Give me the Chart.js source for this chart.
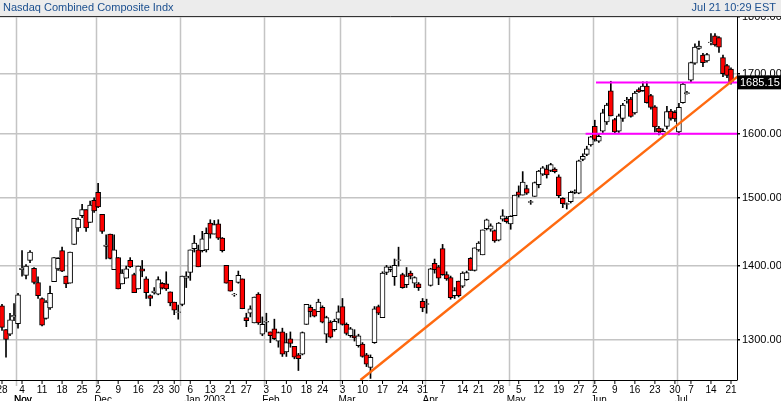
<!DOCTYPE html>
<html><head><meta charset="utf-8">
<script src="https://cdn.jsdelivr.net/npm/chart.js@4/dist/chart.umd.min.js"></script>
<style>html,body{margin:0;padding:0;background:#fff}#w{width:781px;height:401px}</style>
</head><body><div id="w"><canvas id="c"></canvas></div>
<script>
const title = "Nasdaq Combined Composite Indx";
const stamp = "Jul 21 10:29 EST";
const lastPrice = 1685.15;
const holidays = ["2002-11-28","2002-12-25","2003-01-01","2003-01-20","2003-02-17","2003-04-18","2003-05-26","2003-07-04"];
const monthNames = ["Jan 2003","Feb","Mar","Apr","May","Jun","Jul","Aug","Sep","Oct","Nov","Dec"];
const yTicks = [1300,1400,1500,1600,1700,1800];
const opens = [1345,1313,1307,1330,1321,1395,1387,1408,1397,1377,
1355,1328,1342,1378,1396,1422,1386,1376,1431,1455,
1473,1482,1463,1496,1508,1475,1428,1446,1395,1412,
1375,1383,1408,1388,1368,1396,1382,1359,1363,1361,
1376,1375,1364,1350,1336,1347,1383,1391,1425,1423,
1422,1423,1462,1446,1461,1440,1401,1380,1360,1377,
1382,1329,1335,1322,1361,1307,1323,1310,1314,1298,
1310,1284,1301,1291,1280,1281,1320,1343,1340,1337,
1343,1307,1323,1313,1327,1344,1320,1305,1305,1292,
1294,1280,1264,1296,1344,1329,1391,1395,1385,1408,
1388,1374,1390,1376,1375,1351,1347,1373,1404,1399,
1425,1388,1384,1359,1379,1372,1381,1411,1394,1423,
1416,1454,1453,1451,1437,1468,1469,1461,1473,1509,
1504,1514,1493,1502,1520,1536,1544,1542,1544,1532,
1499,1490,1494,1508,1507,1559,1567,1582,1612,1588,
1604,1619,1671,1623,1604,1625,1654,1657,1634,1673,
1671,1679,1663,1644,1609,1600,1612,1637,1635,1603,
1651,1666,1689,1718,1744,1732,1722,1754,1766,1763,
1728,1714,1708];
const highs = [1347,1313,1335,1348,1362,1422,1402,1422,1398,1385,
1356,1352,1372,1412,1412,1427,1386,1420,1469,1470,
1490,1482,1495,1500,1522,1475,1445,1446,1445,1412,
1395,1400,1412,1390,1400,1408,1385,1360,1370,1385,
1377,1392,1364,1350,1346,1386,1392,1423,1444,1430,
1450,1455,1467,1466,1467,1441,1401,1380,1362,1393,
1382,1335,1345,1357,1363,1330,1335,1310,1327,1310,
1315,1308,1310,1291,1282,1310,1347,1346,1340,1354,
1345,1331,1325,1327,1345,1355,1322,1316,1313,1307,
1296,1282,1280,1344,1346,1392,1401,1400,1410,1427,
1390,1398,1393,1385,1377,1355,1354,1397,1410,1401,
1431,1392,1386,1370,1379,1392,1393,1412,1426,1435,
1452,1468,1461,1452,1463,1482,1472,1473,1504,1518,
1540,1519,1496,1524,1542,1548,1550,1553,1546,1535,
1500,1492,1510,1512,1558,1568,1580,1596,1622,1600,
1640,1650,1687,1625,1632,1650,1660,1660,1670,1676,
1686,1686,1665,1646,1612,1608,1645,1640,1638,1650,
1685,1670,1720,1752,1757,1735,1735,1770,1770,1765,
1732,1716,1710];
const lows = [1312,1277,1305,1325,1315,1386,1382,1405,1375,1355,
1318,1327,1340,1378,1394,1392,1370,1376,1431,1450,
1470,1450,1463,1478,1485,1447,1410,1410,1395,1368,
1375,1383,1398,1363,1368,1385,1355,1345,1361,1360,
1368,1366,1345,1333,1327,1345,1370,1380,1420,1399,
1420,1420,1440,1446,1438,1420,1376,1365,1358,1376,
1341,1317,1330,1322,1320,1305,1310,1296,1300,1290,
1278,1278,1290,1275,1260,1280,1320,1330,1330,1337,
1322,1296,1302,1311,1322,1319,1306,1303,1298,1290,
1277,1265,1250,1295,1333,1329,1388,1392,1373,1400,
1369,1370,1382,1370,1366,1337,1335,1372,1390,1374,
1387,1380,1354,1355,1357,1370,1380,1394,1393,1421,
1416,1452,1450,1434,1436,1465,1462,1453,1473,1501,
1504,1505,1490,1502,1515,1534,1530,1540,1538,1500,
1485,1483,1492,1506,1506,1557,1565,1580,1588,1586,
1602,1615,1629,1600,1602,1620,1650,1627,1632,1668,
1670,1650,1640,1603,1598,1598,1608,1622,1620,1598,
1650,1665,1686,1716,1742,1712,1720,1750,1748,1737,
1695,1693,1682];
const closes = [1316,1300,1326,1332,1360,1397,1400,1420,1377,1359,
1319,1350,1362,1412,1411,1393,1375,1420,1469,1468,
1482,1455,1489,1480,1486,1450,1430,1411,1423,1368,
1390,1396,1399,1363,1400,1393,1363,1355,1365,1381,
1369,1368,1349,1339,1337,1386,1386,1423,1433,1399,
1439,1447,1446,1460,1440,1422,1376,1365,1361,1387,
1341,1325,1341,1357,1322,1320,1324,1305,1301,1309,
1281,1296,1295,1277,1275,1309,1347,1337,1331,1350,
1323,1329,1303,1324,1337,1320,1308,1314,1302,1305,
1278,1268,1277,1341,1335,1390,1399,1398,1401,1409,
1370,1386,1386,1384,1370,1342,1348,1396,1395,1383,
1388,1382,1356,1366,1359,1390,1391,1394,1426,1433,
1452,1467,1458,1436,1462,1473,1464,1472,1504,1504,
1524,1507,1494,1523,1541,1546,1535,1551,1540,1503,
1491,1491,1508,1510,1557,1564,1576,1595,1591,1596,
1634,1647,1629,1603,1629,1647,1655,1628,1667,1669,
1679,1651,1643,1611,1603,1604,1636,1625,1624,1643,
1682,1668,1719,1746,1748,1719,1733,1755,1750,1746,
1700,1697,1685.15];
// support / resistance and trend line anchors [barIndex, price]
const trendLine = [[89.5,1248],[184,1697]];
const resistance = [[148.3,1685],[184,1685]];
const support = [[145.7,1600],[184,1600]];

// trading-day categories
const dates = [];
for (let d = new Date(Date.UTC(2002,9,28)); d <= new Date(Date.UTC(2003,6,21)); d.setUTCDate(d.getUTCDate()+1)) {
  const wd = d.getUTCDay(); const iso = d.toISOString().slice(0,10);
  if (wd===0||wd===6||holidays.includes(iso)) continue;
  dates.push(new Date(d));
}
const weekIdx = [], monthIdx = [];
dates.forEach((d,i)=>{
  if (i===0 || d.getUTCDay() < dates[i-1].getUTCDay() || (d - dates[i-1]) > 3*864e5) weekIdx.push(i);
  if (i>0 && d.getUTCMonth()!==dates[i-1].getUTCMonth()) monthIdx.push(i);
});

const FONT = "'Liberation Sans', Arial, sans-serif";
const wicks = dates.map((d,i)=>({x:i,y:[lows[i],highs[i]]}));
const bodies = dates.map((d,i)=>({x:i,y:[opens[i],closes[i]===opens[i]?opens[i]+0.5:closes[i]]}));
const bodyColors = dates.map((d,i)=> closes[i]<opens[i] ? '#ff0000' : '#ffffff');
const pts = a => a.map(p=>({x:p[0],y:p[1]}));

const deco = {
  id:'deco',
  beforeDatasetsDraw(ch){
    const {ctx, chartArea:a, scales:{x}} = ch;
    ctx.save(); ctx.strokeStyle='#c4c4c4'; ctx.lineWidth=1.5;
    monthIdx.forEach(i=>{ const px=Math.round(x.getPixelForValue(i-0.5))+0.5;
      ctx.beginPath(); ctx.moveTo(px,a.top); ctx.lineTo(px,a.bottom+6); ctx.stroke(); });
    ctx.restore();
  },
  afterDraw(ch){
    const {ctx, chartArea:a, scales:{x,y}} = ch;
    ctx.save();
    ctx.fillStyle='#ececec'; ctx.fillRect(0,0,781,16);
    ctx.strokeStyle='#333'; ctx.lineWidth=1; ctx.beginPath(); ctx.moveTo(0,16.5); ctx.lineTo(781,16.5); ctx.stroke();
    ctx.font='11px '+FONT; ctx.fillStyle='#1b4f8f'; ctx.textBaseline='middle';
    ctx.textAlign='left'; ctx.fillText(title,3,8);
    ctx.textAlign='right'; ctx.fillText(stamp,776,8);
    ctx.strokeStyle='#000'; ctx.beginPath(); ctx.moveTo(0,a.bottom+0.5); ctx.lineTo(a.right,a.bottom+0.5); ctx.stroke();
    ctx.font='10px '+FONT; ctx.fillStyle='#000'; ctx.textAlign='center'; ctx.textBaseline='top';
    weekIdx.forEach(i=>{ const px=x.getPixelForValue(i);
      ctx.beginPath(); ctx.moveTo(px,a.bottom); ctx.lineTo(px,a.bottom+4); ctx.stroke();
      ctx.fillText(String(dates[i].getUTCDate()), px, a.bottom+5); });
    ctx.textAlign='left';
    monthIdx.forEach(i=>{
      const name = monthNames[dates[i].getUTCMonth()];
      const px=x.getPixelForValue(i-0.5);
      ctx.fillText(name, px + (name.length>3?4:-2), a.bottom+15); });
    ctx.fillText('Nov', x.getPixelForValue(3.5)-2, a.bottom+15);
    const py=y.getPixelForValue(lastPrice);
    ctx.fillStyle='#000'; ctx.fillRect(a.right+1,py-7,44,14);
    ctx.fillStyle='#fff'; ctx.font='11px '+FONT; ctx.textBaseline='middle'; ctx.fillText(lastPrice.toFixed(2), a.right+3, py+0.5);
    ctx.restore();
  }
};

new Chart(document.getElementById('c'), {
  data:{ datasets:[
    {type:'line', data:pts(trendLine), borderColor:'#ff6a10', borderWidth:2.5, pointRadius:0, order:0},
    {type:'line', data:pts(resistance), borderColor:'#ff00ff', borderWidth:2, pointRadius:0, order:0},
    {type:'line', data:pts(support), borderColor:'#ff00ff', borderWidth:2, pointRadius:0, order:0},
    {type:'bar', data:bodies, backgroundColor:bodyColors, borderColor:'#000', borderWidth:1, borderSkipped:false, barThickness:5, grouped:false, order:1},
    {type:'bar', data:wicks, backgroundColor:'#000', borderWidth:0, barThickness:1, grouped:false, order:2}
  ]},
  options:{
    responsive:true, maintainAspectRatio:false, animation:false,
    layout:{padding:{top:17,bottom:21,left:0,right:0}},
    plugins:{legend:{display:false}, tooltip:{enabled:false}},
    scales:{
      x:{type:'linear', min:-0.5, max:183.5, display:false, offset:false},
      y:{type:'logarithmic', position:'right', min:1248, max:1800,
        afterBuildTicks(s){ s.ticks = yTicks.map(v=>({value:v})); },
        afterFit(s){ s.width=44; },
        grid:{color:'#c4c4c4', lineWidth:1.5, drawTicks:true, tickLength:3, tickColor:'#000'},
        border:{display:true, color:'#000', width:1},
        ticks:{callback:v=>Number(v).toFixed(2), font:{family:FONT,size:11}, color:'#000', padding:2}
      }
    }
  },
  plugins:[deco]
});
</script></body></html>
